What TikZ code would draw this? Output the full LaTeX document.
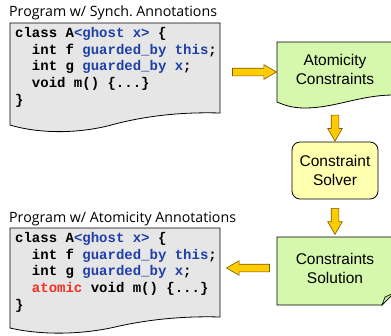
\documentclass[tikz,border=0pt]{standalone}
\usepackage{fontspec}
\setmainfont{Liberation Sans}
\newfontfamily\codefont{Liberation Mono}
\newfontfamily\titlefont{Open Sans}
\usetikzlibrary{shapes.arrows}
\definecolor{docgray}{RGB}{230,230,230}
\definecolor{notegreen}{RGB}{214,248,172}
\definecolor{foldgreen}{RGB}{190,230,150}
\definecolor{solveryellow}{RGB}{255,255,176}
\definecolor{arrowgold}{RGB}{255,204,0}
\definecolor{arrowrim}{RGB}{120,90,0}
\definecolor{kwblue}{RGB}{32,64,168}
\definecolor{kwred}{RGB}{240,48,32}
\newcommand{\ann}[1]{\textcolor{kwblue}{#1}}
\newcommand{\atm}[1]{\textcolor{kwred}{#1}}
\newcommand{\ind}{\hspace*{16.8pt}}
\frenchspacing
\tikzset{
    doctitle/.style={anchor=west, inner sep=0pt, font=\titlefont\fontsize{14.2}{16}\selectfont},
    codelines/.style={anchor=north west, inner sep=0pt, align=left,
        font=\codefont\bfseries\fontsize{14}{16.8}\selectfont},
    boxtext/.style={align=center, inner sep=0pt, font=\fontsize{15.5}{19}\selectfont},
    solverbox/.style={boxtext, draw=black, fill=solveryellow, line width=0.8pt,
        rounded corners=8pt, minimum width=86pt, minimum height=57pt},
    fatarrow/.style={shape=single arrow, draw=arrowrim, fill=arrowgold, line width=0.6pt,
        inner xsep=0pt, inner ysep=3.5pt, single arrow head extend=3.5pt,
        single arrow tip angle=60, text height=0pt, text depth=0pt,
        sloped, allow upside down},
}
\begin{document}
\begin{tikzpicture}[x=1pt, y=-1pt]
\useasboundingbox (0,0) rectangle (391,335);
% program documents
\filldraw[fill=docgray, draw=black, line width=0.8pt] (10,23) -- (220,23) -- (220,113)
    .. controls (185,112) and (150,115) .. (115,124)
    .. controls (80,134) and (40,134) .. (10,125) -- cycle;
\filldraw[fill=docgray, draw=black, line width=0.8pt] (10,228) -- (220,228) -- (220,317)
    .. controls (185,316) and (150,319) .. (115,327)
    .. controls (80,335) and (40,335) .. (10,328) -- cycle;
% green notes
\filldraw[fill=notegreen, draw=black, line width=0.8pt] (277,42) -- (394,42) -- (394,95)
    .. controls (360,95) and (335,108) .. (305,108)
    .. controls (292,108) and (284,105) .. (277,102) -- cycle;
\filldraw[fill=notegreen, draw=black, line width=0.8pt] (277,237) -- (394,237) -- (394,293)
    -- (382,305) -- (277,305) -- cycle;
\filldraw[fill=foldgreen, draw=black, line width=0.6pt] (382,305) -- (385,297) -- (394,293) -- cycle;

\node[doctitle] (title1) at (9,12.5) {Program w/ Synch. Annotations};
\node[codelines] (code1) at (15,27) {class A\ann{<ghost x>} \{\\
\ind int f \ann{guarded\_by this};\\
\ind int g \ann{guarded\_by x};\\
\ind void m() \{...\}\\
\}};
\node[doctitle] (title2) at (9,218.5) {Program w/ Atomicity Annotations};
\node[codelines] (code2) at (15,232) {class A\ann{<ghost x>} \{\\
\ind int f \ann{guarded\_by this};\\
\ind int g \ann{guarded\_by x};\\
\ind \atm{atomic} void m() \{...\}\\
\}};

\node[boxtext, minimum width=116pt, minimum height=54pt] (atom) at (335,69) {Atomicity\\Constraints};
\node[solverbox] (solver) at (335,170.5) {Constraint\\Solver};
\node[boxtext, minimum width=116pt, minimum height=62pt] (solution) at (335,268) {Constraints\\Solution};
\coordinate (prog1e) at (220,72);
\coordinate (prog2e) at (220,268);

% flow arrows
\path (prog1e) -- node[fatarrow, pos=0.55, minimum height=44pt] {} (prog1e -| atom.west);
\path (atom.south) -- node[fatarrow, pos=0.63, minimum height=26pt] {} (solver.north);
\path (solver.south) -- node[fatarrow, minimum height=26pt] {} (solution.north);
\path (solution.west) -- node[fatarrow, pos=0.45, minimum height=43pt] {} (prog2e);
\end{tikzpicture}
\end{document}
